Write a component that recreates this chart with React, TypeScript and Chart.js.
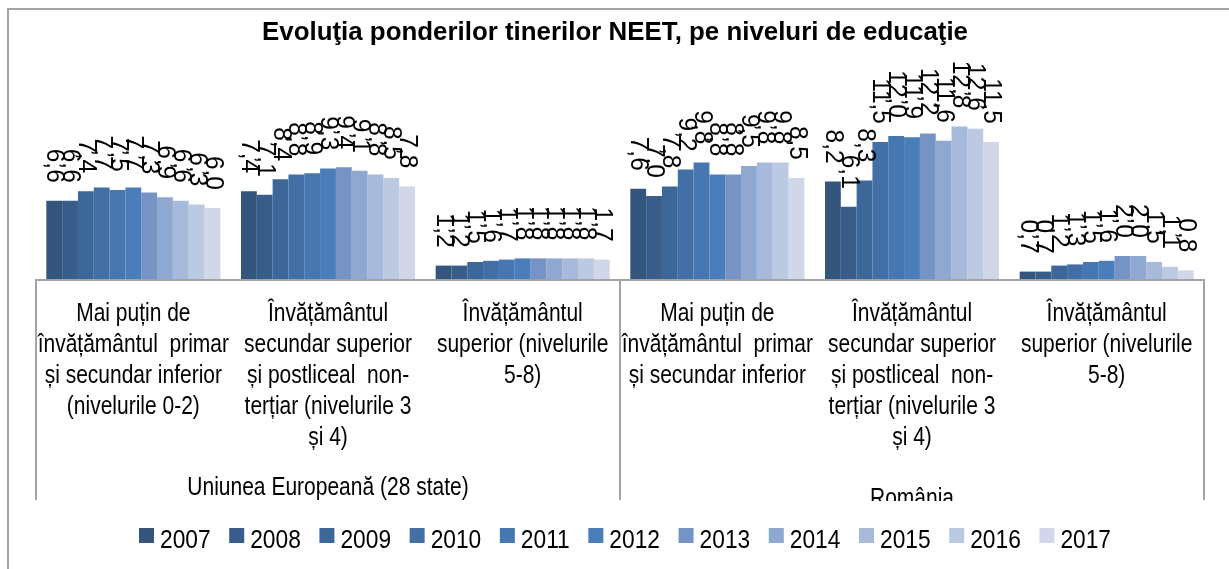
import React, { useEffect, useRef } from 'react';
import { Chart, registerables } from 'chart.js';

Chart.register(...registerables);

const TITLE = 'Evoluţia ponderilor tinerilor NEET, pe niveluri de educaţie';
const YEARS = ['2007', '2008', '2009', '2010', '2011', '2012', '2013', '2014', '2015', '2016', '2017'];
const CATEGORY_KEYS = ['EU_prim', 'EU_sec', 'EU_ter', 'RO_prim', 'RO_sec', 'RO_ter'];
const CATEGORY_LINES = [
  ['Mai puțin de', 'învățământul  primar', 'și secundar inferior', '(nivelurile 0-2)'],
  ['Învățământul', 'secundar superior', 'și postliceal  non-', 'terțiar (nivelurile 3', 'și 4)'],
  ['Învățământul', 'superior (nivelurile', '5-8)'],
  ['Mai puțin de', 'învățământul  primar', 'și secundar inferior'],
  ['Învățământul', 'secundar superior', 'și postliceal  non-', 'terțiar (nivelurile 3', 'și 4)'],
  ['Învățământul', 'superior (nivelurile', '5-8)'],
];
const GROUPS = ['Uniunea Europeană (28 state)', 'România'];

// values per category, one per year 2007..2017
const EU_PRIM = [6.6, 6.6, 7.4, 7.7, 7.5, 7.7, 7.3, 6.9, 6.6, 6.3, 6.0];
const EU_SEC = [7.4, 7.1, 8.4, 8.8, 8.9, 9.3, 9.4, 9.1, 8.8, 8.5, 7.8];
const EU_TER = [1.2, 1.2, 1.5, 1.6, 1.7, 1.8, 1.8, 1.8, 1.8, 1.8, 1.7];
const RO_PRIM = [7.6, 7.0, 7.8, 9.2, 9.8, 8.8, 8.8, 9.5, 9.8, 9.8, 8.5];
const RO_SEC = [8.2, 6.1, 8.3, 11.5, 12.0, 11.9, 12.2, 11.6, 12.8, 12.6, 11.5];
const RO_TER = [0.7, 0.7, 1.2, 1.3, 1.5, 1.6, 2.0, 2.0, 1.5, 1.1, 0.8];

const COLORS = ['#34557c', '#385d8a', '#3d6699', '#416fa6', '#4677b1', '#4a7ebb', '#7593c5', '#8fa8d0', '#a8badb', '#bcc9e3', '#cfd7e9'];

const W = 1229;
const H = 569;
const FONT = '"Liberation Sans", Arial, sans-serif';
const SX = 0.84;
const GRAY = '#a3a3a3';

function drawText(ctx: CanvasRenderingContext2D, s: string, x: number, y: number, size: number, align: CanvasTextAlign, sx = SX, bold = false) {
  ctx.save();
  ctx.translate(x, y);
  ctx.scale(sx, 1);
  ctx.font = `${bold ? 'bold ' : ''}${size}px ${FONT}`;
  ctx.textAlign = align;
  ctx.textBaseline = 'alphabetic';
  ctx.fillStyle = '#000';
  ctx.fillText(s, 0, 0);
  ctx.restore();
}

const fmt = (v: number) => v.toFixed(1).replace('.', ',');

const decorPlugin = {
  id: 'decor',
  beforeDraw(chart: any) {
    const ctx: CanvasRenderingContext2D = chart.ctx;
    ctx.save();
    ctx.fillStyle = '#fff';
    ctx.fillRect(0, 0, W, H);
    ctx.strokeStyle = GRAY;
    ctx.lineWidth = 2;
    ctx.beginPath();
    ctx.moveTo(8, H);
    ctx.lineTo(8, 9);
    ctx.lineTo(W, 9);
    ctx.stroke();
    ctx.restore();
  },
  afterDatasetsDraw(chart: any) {
    const ctx: CanvasRenderingContext2D = chart.ctx;
    chart.data.datasets.forEach((ds: any, i: number) => {
      const meta = chart.getDatasetMeta(i);
      meta.data.forEach((bar: any, j: number) => {
        ctx.save();
        ctx.translate(bar.x, bar.y - 18);
        ctx.rotate(Math.PI / 2);
        ctx.scale(0.98, 1);
        ctx.font = `25px ${FONT}`;
        ctx.textAlign = 'right';
        ctx.textBaseline = 'middle';
        ctx.fillStyle = '#000';
        ctx.fillText(fmt(ds.data[j]), 0, 0);
        ctx.restore();
      });
    });
  },
  afterDraw(chart: any) {
    const ctx: CanvasRenderingContext2D = chart.ctx;
    const area = chart.chartArea;
    const xs = chart.scales.x;
    const left = area.left;
    const right = area.right;
    const bottom = area.bottom;
    const mid = (xs.getPixelForValue(2) + xs.getPixelForValue(3)) / 2;
    // axis box
    ctx.save();
    ctx.strokeStyle = GRAY;
    ctx.lineWidth = 2;
    ctx.beginPath();
    ctx.moveTo(left, 500);
    ctx.lineTo(left, bottom);
    ctx.lineTo(right, bottom);
    ctx.lineTo(right, 500);
    ctx.moveTo(mid, bottom);
    ctx.lineTo(mid, 500);
    ctx.stroke();
    ctx.restore();

    // category labels
    ctx.save();
    ctx.beginPath();
    ctx.rect(0, bottom + 1, W, 501 - bottom - 1);
    ctx.clip();
    CATEGORY_LINES.forEach((lines, c) => {
      const cx = xs.getPixelForValue(c);
      lines.forEach((ln, k) => drawText(ctx, ln, cx, 321 + k * 31, 25, 'center'));
    });
    drawText(ctx, GROUPS[0], (left + mid) / 2, 495, 25, 'center');
    drawText(ctx, GROUPS[1], (mid + right) / 2, 506, 25, 'center');
    ctx.restore();

    // title
    ctx.save();
    ctx.font = `bold 26px ${FONT}`;
    const tw = ctx.measureText(TITLE).width;
    ctx.restore();
    drawText(ctx, TITLE, 615, 40, 26, 'center', 706 / tw, true);

    // legend
    const LSX = 0.91;
    let x = 139;
    ctx.save();
    chart.data.datasets.forEach((ds: any) => {
      ctx.fillStyle = ds.backgroundColor;
      ctx.fillRect(x, 528, 15, 15);
      drawText(ctx, ds.label, x + 21, 548, 25, 'left', LSX);
      ctx.font = `25px ${FONT}`;
      const w = ctx.measureText(ds.label).width * LSX;
      x += 15 + 6 + w + 18.6;
    });
    ctx.restore();
  },
};

export default function App() {
  const ref = useRef<HTMLCanvasElement | null>(null);
  useEffect(() => {
    if (!ref.current) return;
    const series = [EU_PRIM, EU_SEC, EU_TER, RO_PRIM, RO_SEC, RO_TER];
    const chart = new Chart(ref.current, {
      type: 'bar',
      data: {
        labels: CATEGORY_KEYS,
        datasets: YEARS.map((y, i) => ({
          label: y,
          data: series.map((s) => s[i]),
          backgroundColor: COLORS[i],
          borderWidth: 0,
          barPercentage: 1,
          categoryPercentage: 0.894,
        })),
      },
      options: {
        animation: false,
        responsive: false,
        devicePixelRatio: 1,
        layout: { padding: { left: 36, right: 25, top: 40, bottom: 289 } },
        scales: {
          x: { display: false },
          y: { display: false, min: 0, max: 20 },
        },
        plugins: {
          legend: { display: false },
          title: { display: false },
          tooltip: { enabled: false },
        },
      },
      plugins: [decorPlugin],
    });
    return () => chart.destroy();
  }, []);
  return (
    <div style={{ position: 'fixed', left: 0, top: 0, width: W, height: H, background: '#fff' }}>
      <canvas ref={ref} width={W} height={H} style={{ width: W, height: H, display: 'block' }} />
    </div>
  );
}
